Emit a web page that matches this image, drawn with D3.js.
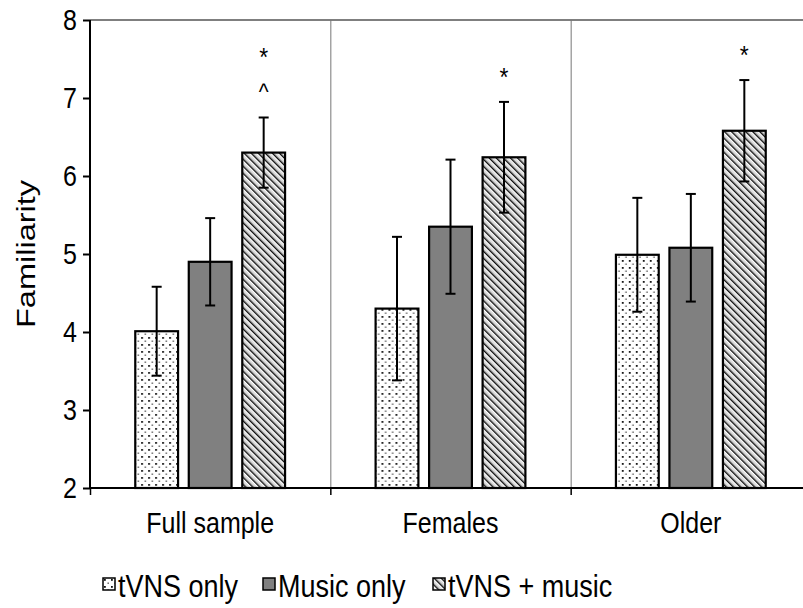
<!DOCTYPE html>
<html>
<head>
<meta charset="utf-8">
<script src="https://cdn.jsdelivr.net/npm/d3@7"></script>
<style>
  body { margin: 0; background: #fff; }
  svg { font-family: "Liberation Sans", Arial, sans-serif; }
</style>
</head>
<body>
<svg id="chart" width="803" height="608"></svg>
<script>
// chart data
var groups = ['Full sample', 'Females', 'Older'];
var series = ['tVNS only', 'Music only', 'tVNS + music'];
var tvnsOnly = [4.01, 4.30, 4.99];
var tvnsOnlyErr = [0.57, 0.92, 0.73];
var musicOnly = [4.90, 5.35, 5.08];
var musicOnlyErr = [0.56, 0.86, 0.69];
var combined = [6.30, 6.24, 6.58];
var combinedErr = [0.45, 0.71, 0.65];
var marks = [['*', '^'], ['*'], ['*']];
var yTicks = [2, 3, 4, 5, 6, 7, 8];

// the picture's text is a little taller than it is wide
var stretch = 'scale(1,1.15)';

var svg = d3.select('#chart');
var defs = svg.append('defs');

// dotted fill
var dots = defs.append('pattern')
  .attr('id', 'dots').attr('patternUnits', 'userSpaceOnUse')
  .attr('width', 7).attr('height', 7);
dots.append('rect').attr('width', 7).attr('height', 7).attr('fill', '#fff');
dots.append('rect').attr('x', 1).attr('y', 1).attr('width', 1.8).attr('height', 1.8).attr('fill', '#111');
dots.append('rect').attr('x', 4.5).attr('y', 4.5).attr('width', 1.4).attr('height', 1.4).attr('fill', '#555');

// diagonal hatch (top-left to bottom-right)
var hatch = defs.append('pattern')
  .attr('id', 'hatch').attr('patternUnits', 'userSpaceOnUse')
  .attr('width', 5).attr('height', 5)
  .attr('patternTransform', 'rotate(-45)');
hatch.append('rect').attr('width', 5).attr('height', 5).attr('fill', '#fff');
hatch.append('rect').attr('x', 0).attr('y', 0).attr('width', 1.5).attr('height', 5).attr('fill', '#111');
hatch.append('rect').attr('x', 2.6).attr('y', 0).attr('width', 0.8).attr('height', 5).attr('fill', '#aaa');

var fills = ['url(#dots)', '#808080', 'url(#hatch)'];

var table = groups.map(function(g, i) {
  return {
    group: g,
    bars: [
      {s: series[0], v: tvnsOnly[i], e: tvnsOnlyErr[i]},
      {s: series[1], v: musicOnly[i], e: musicOnlyErr[i]},
      {s: series[2], v: combined[i], e: combinedErr[i]}
    ],
    marks: marks[i]
  };
});

// scales
var x = d3.scaleBand().domain(groups).range([90, 811]);
var xs = d3.scaleBand().domain(series).range([-80.25, 80.25]).paddingInner(0.2).paddingOuter(0.1);
var y = d3.scaleLinear().domain([2, 8]).range([488, 20]);

// plot frame: top border and group separators
svg.append('line')
  .attr('x1', 90).attr('x2', 803).attr('y1', y(8)).attr('y2', y(8))
  .attr('stroke', '#555').attr('stroke-width', 1.5);
svg.selectAll('line.sep')
  .data(groups.slice(1))
  .enter().append('line')
  .attr('class', 'sep')
  .attr('x1', function(d) { return x(d) + 0.5; })
  .attr('x2', function(d) { return x(d) + 0.5; })
  .attr('y1', y(8)).attr('y2', y(2))
  .attr('stroke', '#777').attr('stroke-width', 1);

// bars
var g = svg.selectAll('g.grp')
  .data(table)
  .enter().append('g')
  .attr('class', 'grp')
  .attr('transform', function(d) { return 'translate(' + (x(d.group) + x.bandwidth() / 2) + ',0)'; });

g.selectAll('rect.bar')
  .data(function(d) { return d.bars; })
  .enter().append('rect')
  .attr('class', 'bar')
  .attr('x', function(d) { return xs(d.s); })
  .attr('y', function(d) { return y(d.v); })
  .attr('width', xs.bandwidth())
  .attr('height', function(d) { return y(2) - y(d.v); })
  .attr('fill', function(d, i) { return fills[i]; })
  .attr('stroke', '#000')
  .attr('stroke-width', 2.2);

// error bars
var eb = g.selectAll('g.err')
  .data(function(d) { return d.bars; })
  .enter().append('g')
  .attr('class', 'err')
  .attr('transform', function(d) { return 'translate(' + (xs(d.s) + xs.bandwidth() / 2) + ',0)'; });
eb.append('line')
  .attr('y1', function(d) { return y(d.v + d.e); })
  .attr('y2', function(d) { return y(d.v - d.e); })
  .attr('stroke', '#000').attr('stroke-width', 2);
eb.append('line')
  .attr('x1', -5).attr('x2', 5)
  .attr('y1', function(d) { return y(d.v + d.e); })
  .attr('y2', function(d) { return y(d.v + d.e); })
  .attr('stroke', '#000').attr('stroke-width', 2);
eb.append('line')
  .attr('x1', -5).attr('x2', 5)
  .attr('y1', function(d) { return y(d.v - d.e); })
  .attr('y2', function(d) { return y(d.v - d.e); })
  .attr('stroke', '#000').attr('stroke-width', 2);

// significance marks above the combined bar (lowest mark first)
g.each(function(d) {
  var top = y(d.bars[2].v + d.bars[2].e);
  d3.select(this).selectAll('text.sig')
    .data(d.marks.slice().reverse())
    .enter().append('text')
    .attr('class', 'sig')
    .attr('transform', function(m, i) {
      var centre = top - 29 - i * 36;
      var base = centre + (m === '*' ? 13 : 11);
      return 'translate(' + (xs(series[2]) + xs.bandwidth() / 2) + ',' + base + ') ' + stretch;
    })
    .attr('text-anchor', 'middle')
    .style('font-size', function(m) { return m === '*' ? '23px' : '21px'; })
    .text(function(m) { return m; });
});

// axes
var yAxis = svg.append('g')
  .attr('transform', 'translate(90,0)')
  .call(d3.axisLeft(y).tickValues(yTicks).tickSize(7).tickPadding(6).tickFormat(d3.format('d')));
yAxis.select('.domain').attr('stroke-width', 2).attr('d', 'M0,' + y(8) + 'V' + y(2));
yAxis.selectAll('.tick line').attr('stroke-width', 2);
yAxis.selectAll('.tick text')
  .style('font-size', '25px').attr('fill', '#000')
  .attr('transform', stretch);

svg.append('line')
  .attr('x1', 90).attr('x2', 803).attr('y1', y(2)).attr('y2', y(2))
  .attr('stroke', '#000').attr('stroke-width', 2);
svg.selectAll('line.xtick')
  .data(groups)
  .enter().append('line')
  .attr('class', 'xtick')
  .attr('x1', function(d) { return x(d) + 0.5; })
  .attr('x2', function(d) { return x(d) + 0.5; })
  .attr('y1', y(2)).attr('y2', y(2) + 7)
  .attr('stroke', '#000').attr('stroke-width', 1.5);

svg.selectAll('text.xlab')
  .data(groups)
  .enter().append('text')
  .attr('class', 'xlab')
  .attr('transform', function(d) { return 'translate(' + (x(d) + x.bandwidth() / 2) + ',533) ' + stretch; })
  .attr('text-anchor', 'middle')
  .style('font-size', '25px')
  .text(function(d) { return d; });

svg.append('text')
  .attr('transform', 'translate(35,' + y(5) + ') scale(1,1.3) rotate(-90)')
  .attr('text-anchor', 'middle')
  .style('font-size', '25px')
  .text('Familiarity');

// legend
var legendX = [103, 263, 433];
var legend = svg.selectAll('g.leg')
  .data(series)
  .enter().append('g')
  .attr('class', 'leg')
  .attr('transform', function(d, i) { return 'translate(' + legendX[i] + ',578)'; });
legend.append('rect')
  .attr('width', 12).attr('height', 12)
  .attr('fill', function(d, i) { return fills[i]; })
  .attr('stroke', '#000').attr('stroke-width', 1.5);
legend.append('text')
  .attr('transform', 'translate(15,19) ' + stretch)
  .style('font-size', '27px')
  .text(function(d) { return d; });
</script>
</body>
</html>
